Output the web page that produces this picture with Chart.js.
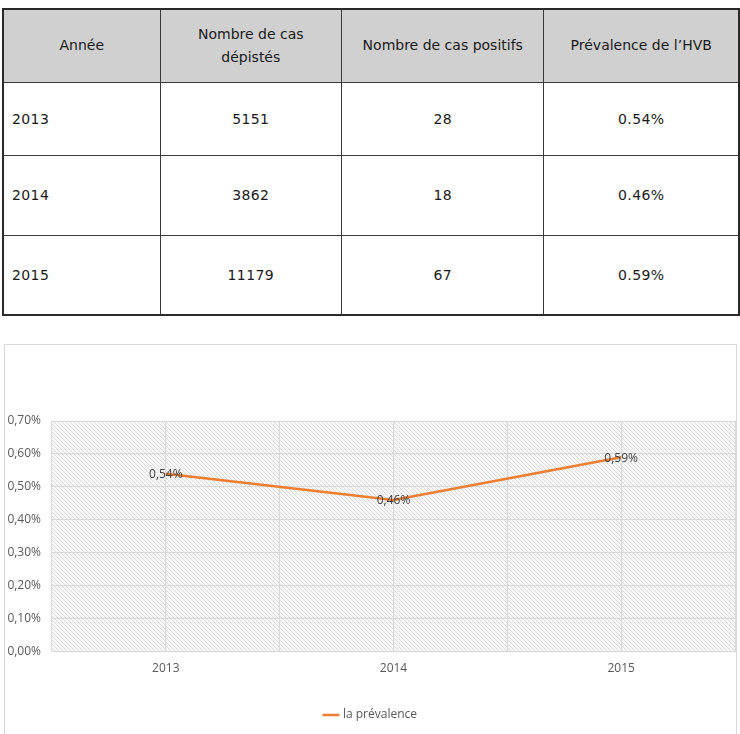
<!DOCTYPE html>
<html>
<head>
<meta charset="utf-8">
<script src="https://cdn.jsdelivr.net/npm/chart.js@4/dist/chart.umd.min.js"></script>
<style>
  html, body { margin: 0; padding: 0; background: #fff; }
  body { width: 740px; height: 734px; position: relative; overflow: hidden; }
  #tbl {
    position: absolute; left: 2px; top: 8px;
    border-collapse: collapse; border: 2px solid #2a2a2a;
    font-family: "DejaVu Sans", sans-serif; font-size: 14px; color: #1a1a1a;
  }
  #tbl td { border: 1.5px solid #3a3a3a; padding: 0; text-align: center; letter-spacing: 0.4px; }
  #tbl tr.head td { background: #d0d0d0; letter-spacing: 0; line-height: 23px; }
  #tbl td.first { text-align: left; padding-left: 8px; }
  #tbl tr.head td.first { text-align: center; padding-left: 0; }
  #chartBox {
    position: absolute; left: 4px; top: 344px; width: 731px; height: 392px;
    border: 1px solid #d9d9d9;
  }
</style>
</head>
<body>
<table id="tbl"></table>
<div id="chartBox"><canvas id="chart"></canvas></div>
<script>
// table data
const headers = ['Année', 'Nombre de cas<br>dépistés', 'Nombre de cas positifs', 'Prévalence de l’HVB'];
const years = ['2013', '2014', '2015'];
const screened = ['5151', '3862', '11179'];
const positives = ['28', '18', '67'];
const prevText = ['0.54%', '0.46%', '0.59%'];

// chart data (percent)
const prevalence = [0.54, 0.46, 0.59];
const seriesName = 'la prévalence';
const yTicks = [0, 0.1, 0.2, 0.3, 0.4, 0.5, 0.6, 0.7];

const colW = [156, 181, 202, 194];
const rowH = [73, 73, 80, 80];

function buildTable() {
  const t = document.getElementById('tbl');
  let html = '<tr class="head" style="height:' + rowH[0] + 'px">' +
    headers.map((h, i) => `<td class="${i === 0 ? 'first' : ''}" style="width:${colW[i]}px">${h}</td>`).join('') + '</tr>';
  years.forEach((y, r) => {
    html += `<tr style="height:${rowH[r + 1]}px"><td class="first">${y}</td><td>${screened[r]}</td><td>${positives[r]}</td><td>${prevText[r]}</td></tr>`;
  });
  t.innerHTML = html;
}
buildTable();

const fmtPct = v => v.toFixed(2).replace('.', ',') + '%';

// light downward diagonal hatch behind the plot area
function hatchPattern(ctx) {
  const c = document.createElement('canvas');
  c.width = 4; c.height = 4;
  const g = c.getContext('2d');
  g.fillStyle = '#f7f7f7';
  g.fillRect(0, 0, 4, 4);
  g.strokeStyle = '#dcdcdc';
  g.lineWidth = 1;
  g.beginPath();
  g.moveTo(-1, -1); g.lineTo(5, 5);
  g.moveTo(-1, 3); g.lineTo(1, 5);
  g.moveTo(3, -1); g.lineTo(5, 1);
  g.stroke();
  return ctx.createPattern(c, 'repeat');
}

const hatchPlugin = {
  id: 'hatch',
  beforeDraw(chart) {
    const { ctx, chartArea: a } = chart;
    ctx.save();
    ctx.fillStyle = hatchPattern(ctx);
    ctx.fillRect(a.left, a.top, a.right - a.left, a.bottom - a.top);
    ctx.restore();
  }
};

const labelPlugin = {
  id: 'valueLabels',
  afterDatasetsDraw(chart) {
    const { ctx } = chart;
    const meta = chart.getDatasetMeta(0);
    ctx.save();
    ctx.font = '12px "Open Sans"';
    ctx.fillStyle = '#404040';
    ctx.textAlign = 'center';
    ctx.textBaseline = 'middle';
    meta.data.forEach((pt, i) => {
      ctx.fillText(fmtPct(prevalence[i]), pt.x, pt.y + 1);
    });
    ctx.restore();
  }
};

const gridColor = '#d9d9d9';
const tickColor = '#595959';

new Chart(document.getElementById('chart'), {
  type: 'line',
  data: {
    labels: years,
    datasets: [{
      label: seriesName,
      data: prevalence,
      borderColor: '#ed7d31',
      backgroundColor: '#ed7d31',
      borderWidth: 2.5,
      pointRadius: 0,
      tension: 0,
      fill: false
    }]
  },
  options: {
    responsive: true,
    maintainAspectRatio: false,
    animation: false,
    layout: { padding: { left: 2, right: 1, top: 76, bottom: 6 } },
    scales: {
      x: {
        offset: true,
        grid: { offset: false, color: gridColor, drawTicks: false },
        border: { display: false },
        ticks: { color: tickColor, font: { family: 'Open Sans', size: 12 }, padding: 10 },
        afterFit: axis => { axis.height += 9; }
      },
      x2: {
        position: 'top',
        offset: true,
        grid: { offset: true, color: gridColor, drawTicks: false },
        border: { display: false },
        ticks: { display: false }
      },
      y: {
        min: 0, max: 0.7,
        afterBuildTicks: axis => { axis.ticks = yTicks.map(v => ({ value: v })); },
        afterFit: axis => { axis.width = 45; },
        grid: { color: gridColor, drawTicks: false },
        border: { display: false },
        ticks: { color: tickColor, font: { family: 'Open Sans', size: 12 }, padding: 11, callback: v => fmtPct(v) }
      }
    },
    plugins: {
      legend: {
        position: 'bottom',
        labels: {
          usePointStyle: true, pointStyle: 'line', boxWidth: 30, padding: 14,
          color: tickColor, font: { family: 'Open Sans', size: 12 }
        }
      },
      tooltip: { enabled: false }
    }
  },
  plugins: [hatchPlugin, labelPlugin]
});
</script>
</body>
</html>
